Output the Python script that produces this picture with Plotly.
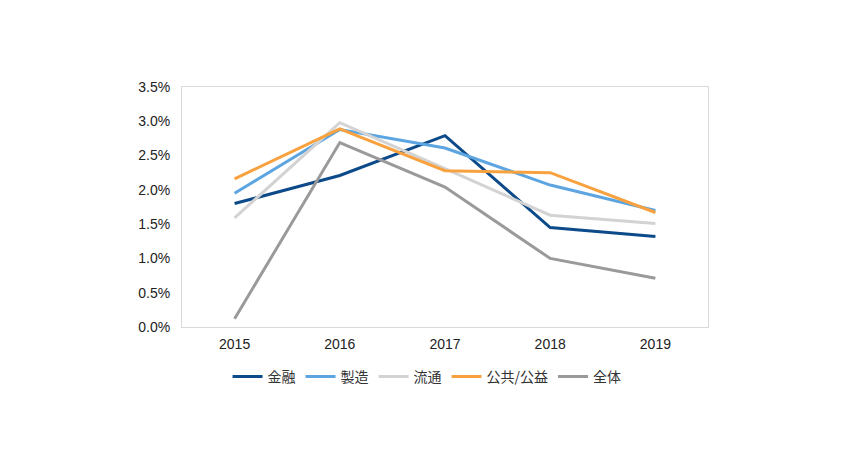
import plotly.graph_objects as go

years = ["2015", "2016", "2017", "2018", "2019"]
kinyu = [0.0180, 0.0221, 0.0279, 0.0145, 0.0132]
seizo = [0.0195, 0.0288, 0.0261, 0.0207, 0.0170]
ryutsu = [0.0159, 0.0298, 0.0231, 0.0163, 0.0151]
kokyo = [0.0216, 0.0289, 0.0228, 0.0225, 0.0167]
zentai = [0.0012, 0.0269, 0.0204, 0.0100, 0.0071]

series = [
    ("金融", kinyu, "#0D4A8A"),
    ("製造", seizo, "#5DA5E0"),
    ("流通", ryutsu, "#D3D3D3"),
    ("公共/公益", kokyo, "#F8A13F"),
    ("全体", zentai, "#9A9A9A"),
]

fig = go.Figure()
for name, vals, color in series:
    fig.add_trace(go.Scatter(x=years, y=vals, name=name, mode="lines",
                             line=dict(color=color, width=3)))

fig.update_layout(
    width=850, height=470,
    margin=dict(l=174, r=150, t=79, b=151, autoexpand=False),
    paper_bgcolor="white", plot_bgcolor="white",
    font=dict(family="Liberation Sans, Arial, Noto Sans CJK JP", size=14, color="#222"),
    legend=dict(orientation="h", xref="container", yref="container",
                x=0.493, xanchor="center", y=0.215, yanchor="middle",
                font=dict(family="Noto Sans CJK JP, Liberation Sans", size=14, color="#333")),
    showlegend=True,
)
fig.update_xaxes(type="category", range=[-0.5, 4.5], showgrid=False,
                 showline=True, linecolor="#D9D9D9", linewidth=1, mirror=True,
                 ticks="", ticklabelstandoff=4,
                 tickfont=dict(family="Liberation Sans, Arial", size=14, color="#222"))
fig.update_yaxes(range=[0, 0.035], dtick=0.005, tickformat=".1%", showgrid=False,
                 showline=True, linecolor="#D9D9D9", linewidth=1, mirror=True,
                 ticks="", zeroline=False, ticklabelstandoff=8,
                 tickfont=dict(family="Liberation Sans, Arial", size=14, color="#222"))

fig.write_html("out.html")
